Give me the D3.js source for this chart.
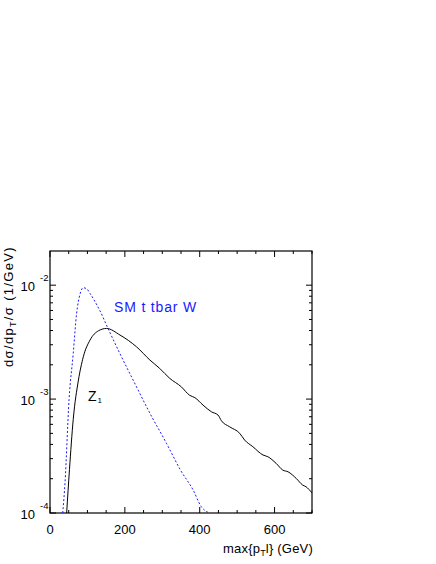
<!DOCTYPE html>
<html>
<head>
<meta charset="utf-8">
<script src="https://cdn.jsdelivr.net/npm/d3@7"></script>
<style>
  body { margin: 0; background: #fff; }
  text { font-family: "Liberation Sans", Arial, sans-serif; }
</style>
</head>
<body>
<svg class="chart"></svg>
<script>
// Z1 curve (black, solid)
const zX = [44.5, 52, 62, 76, 89, 107, 129, 151, 187, 231, 267, 293, 320, 351, 373, 387, 409, 431, 449, 458, 480, 507, 520, 542, 569, 582, 604, 622, 636, 658, 675, 684, 700];
const zY = [1e-4, 2.4e-4, 6.6e-4, 1.47e-3, 2.35e-3, 3.3e-3, 3.97e-3, 4.17e-3, 3.65e-3, 2.88e-3, 2.2e-3, 1.86e-3, 1.52e-3, 1.28e-3, 1.08e-3, 1.03e-3, 8.85e-4, 7.74e-4, 7.24e-4, 6.45e-4, 5.71e-4, 5.0e-4, 4.37e-4, 3.82e-4, 3.23e-4, 3.12e-4, 2.73e-4, 2.38e-4, 2.30e-4, 2.01e-4, 1.76e-4, 1.70e-4, 1.5e-4];

// SM t tbar W (blue, dashed)
const wX = [34, 40, 51, 62, 71, 80, 89, 98, 107, 120, 133, 155, 187, 222, 267, 311, 320, 348, 382, 404, 425];
const wY = [1e-4, 1.82e-4, 1e-3, 2.5e-3, 5.6e-3, 8.3e-3, 9.5e-3, 9.3e-3, 8.45e-3, 7.2e-3, 6.0e-3, 4.17e-3, 2.5e-3, 1.47e-3, 7.5e-4, 4.1e-4, 3.6e-4, 2.4e-4, 1.6e-4, 1.14e-4, 1e-4];

const xTicks = [0, 200, 400, 600];
const yDecades = [-4, -3, -2];

const width = 436;
const height = 564;
const margin = {left: 50, top: 251, right: 124, bottom: 51};
const innerWidth = width - margin.left - margin.right;
const innerHeight = height - margin.top - margin.bottom;

const svg = d3.select('.chart')
  .attr('width', width)
  .attr('height', height);

const xScale = d3.scaleLinear().domain([0, 700]).range([0, innerWidth]);
const yScale = d3.scaleLog().domain([1e-4, 10 ** -1.7]).range([innerHeight, 0]);

// spread a text's letters so it spans the given width
const fitWidth = (sel, w) => {
  const node = sel.node();
  const n = node.textContent.length;
  const cur = node.getComputedTextLength();
  sel.attr('letter-spacing', ((w - cur) / n).toFixed(2));
};

const g = svg.append('g')
  .attr('transform', `translate(${margin.left},${margin.top})`);

g.append('clipPath').attr('id', 'clip')
  .append('rect').attr('width', innerWidth).attr('height', innerHeight);

// ticks, inward on all four sides
d3.range(0, 701, 50).forEach(v => {
  const len = v % 200 === 0 ? 6 : 3;
  const x = xScale(v);
  g.append('line').attr('x1', x).attr('x2', x).attr('y1', innerHeight).attr('y2', innerHeight - len).attr('stroke', '#000');
  g.append('line').attr('x1', x).attr('x2', x).attr('y1', 0).attr('y2', len).attr('stroke', '#000');
});

const yMinor = [];
yDecades.forEach(e => {
  for (let m = 1; m < 10; m++) {
    const v = m * 10 ** e;
    if (v <= yScale.domain()[1]) yMinor.push({v: v, major: m === 1});
  }
});
yMinor.forEach(d => {
  const len = d.major ? 6 : 3;
  const y = yScale(d.v);
  g.append('line').attr('x1', 0).attr('x2', len).attr('y1', y).attr('y2', y).attr('stroke', '#000');
  g.append('line').attr('x1', innerWidth).attr('x2', innerWidth - len).attr('y1', y).attr('y2', y).attr('stroke', '#000');
});

// frame
g.append('rect')
  .attr('width', innerWidth).attr('height', innerHeight)
  .attr('fill', 'none').attr('stroke', '#000').attr('stroke-width', 1.2);

// x tick labels
g.selectAll('.xl').data(xTicks).enter().append('text')
  .attr('x', d => xScale(d))
  .attr('y', innerHeight + 21)
  .attr('text-anchor', 'middle')
  .attr('font-size', 13)
  .text(d => d);

// y tick labels, 10^n
yDecades.forEach(e => {
  const y = yScale(10 ** e);
  g.append('text').attr('x', -15).attr('y', y + 6)
    .attr('text-anchor', 'end').attr('font-size', 13).text('10');
  g.append('text').attr('x', -10).attr('y', y - 4)
    .attr('font-size', 9.5).text('-' + Math.abs(e));
});

const line = d3.line()
  .x(d => xScale(d[0]))
  .y(d => yScale(d[1]))
  .curve(d3.curveMonotoneX);

const plot = g.append('g').attr('clip-path', 'url(#clip)');

plot.append('path')
  .datum(zX.map((x, i) => [x, zY[i]]))
  .attr('d', line)
  .attr('fill', 'none')
  .attr('stroke', '#000')
  .attr('stroke-width', 1);

plot.append('path')
  .datum(wX.map((x, i) => [x, wY[i]]))
  .attr('d', line)
  .attr('fill', 'none')
  .attr('stroke', '#1a1aff')
  .attr('stroke-width', 1)
  .attr('stroke-dasharray', '2,2');

// curve labels
const sm = g.append('text')
  .attr('x', 64).attr('y', 61)
  .attr('font-size', 14)
  .attr('fill', '#1a1aff')
  .text('SM t tbar W');
fitWidth(sm, 83);

const zl = g.append('text')
  .attr('x', 38).attr('y', 150)
  .attr('font-size', 14);
zl.append('tspan').text('Z');
zl.append('tspan').attr('font-size', 8).attr('dx', 1).attr('dy', 2).text('1');

// axis titles
const xt = svg.append('text')
  .attr('x', 223)
  .attr('y', 553)
  .attr('font-size', 13);
xt.append('tspan').text('max{p');
xt.append('tspan').attr('font-size', 9).attr('dy', 3).text('T');
xt.append('tspan').attr('dy', -3).text('l} (GeV)');
fitWidth(xt, 90);

const yt = svg.append('text')
  .attr('transform', 'translate(13,367) rotate(-90)')
  .attr('font-size', 13);
yt.append('tspan').text('dσ/dp');
yt.append('tspan').attr('font-size', 9).attr('dy', 3).text('T');
yt.append('tspan').attr('dy', -3).text('/σ (1/GeV)');
fitWidth(yt, 121);
</script>
</body>
</html>
